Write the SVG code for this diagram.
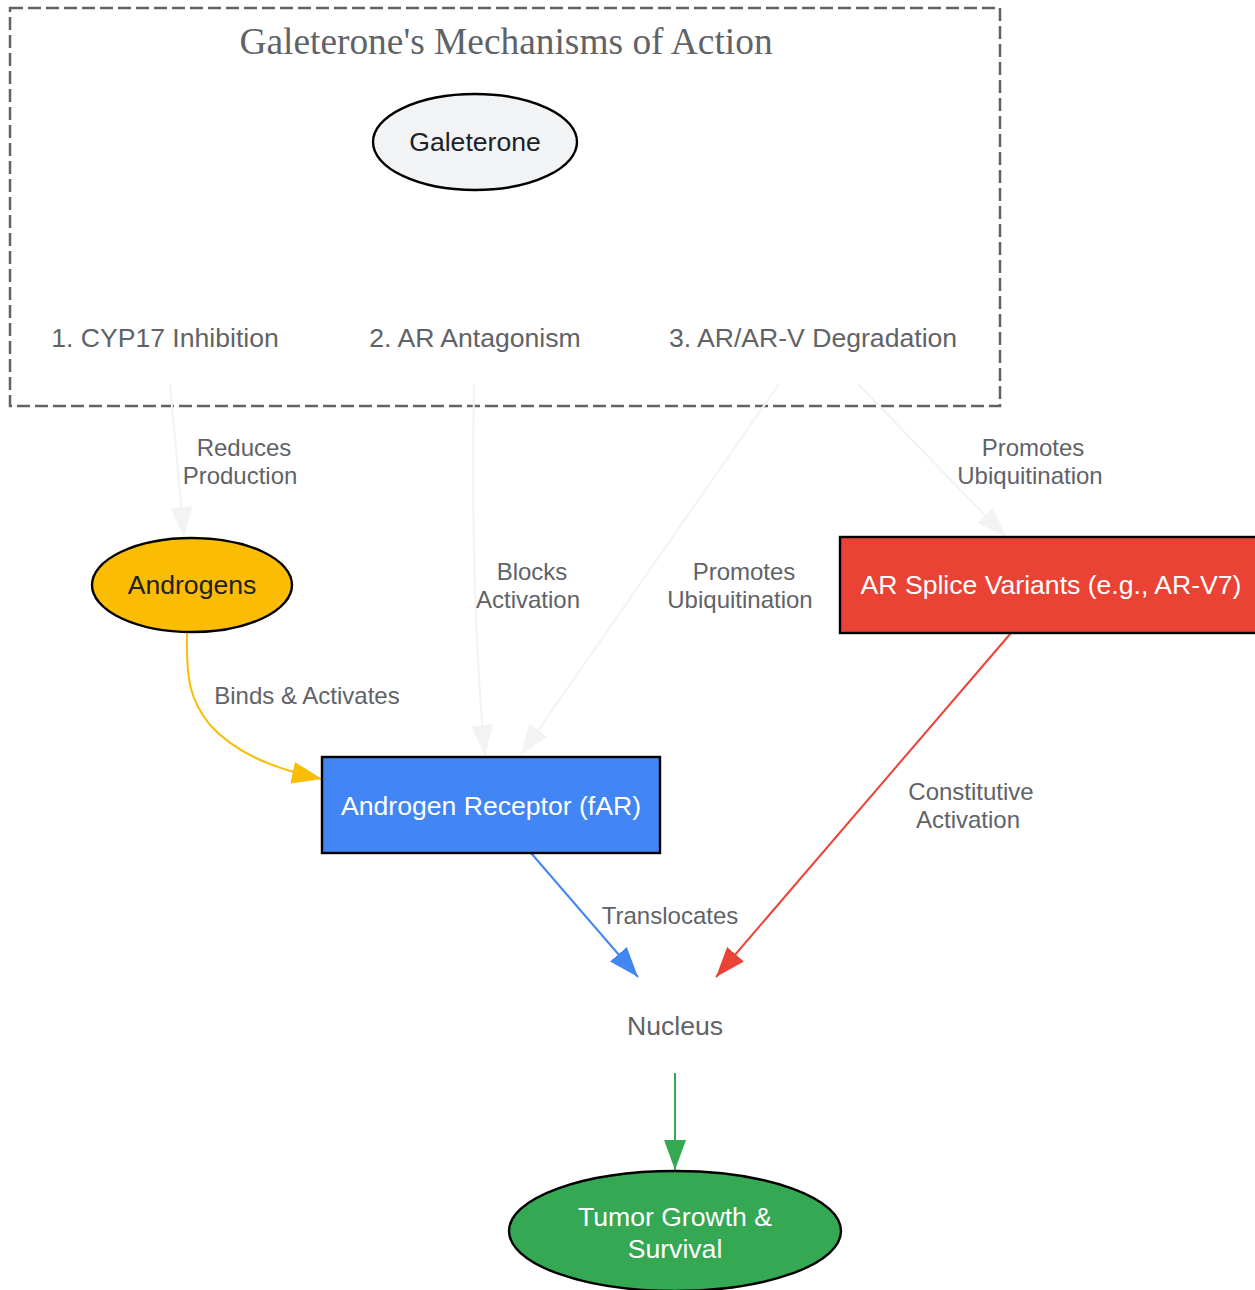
<svg xmlns="http://www.w3.org/2000/svg" width="1255" height="1290" viewBox="0 0 1255 1290">
<style>
.node{font-family:"Liberation Sans",Arial,sans-serif;font-size:26.6px;text-anchor:middle}
.lbl{font-family:"Liberation Sans",Arial,sans-serif;font-size:24px;fill:#5f6368;text-anchor:middle}
.title{font-family:"Liberation Serif","Times New Roman",serif;font-size:37.4px;fill:#5f6368;text-anchor:middle}
.e{fill:none;stroke-width:2}
.shape{stroke:#000;stroke-width:2.4}
</style>
<defs>
<marker id="aLight" markerUnits="userSpaceOnUse" markerWidth="32" markerHeight="24" refX="30" refY="11" orient="auto"><path d="M0,0 L30,11 L0,22 z" fill="#f1f3f4"/></marker>
<marker id="aYellow" markerUnits="userSpaceOnUse" markerWidth="32" markerHeight="24" refX="30" refY="11" orient="auto"><path d="M0,0 L30,11 L0,22 z" fill="#fbbc04"/></marker>
<marker id="aBlue" markerUnits="userSpaceOnUse" markerWidth="32" markerHeight="24" refX="30" refY="11" orient="auto"><path d="M0,0 L30,11 L0,22 z" fill="#4285f4"/></marker>
<marker id="aRed" markerUnits="userSpaceOnUse" markerWidth="32" markerHeight="24" refX="30" refY="11" orient="auto"><path d="M0,0 L30,11 L0,22 z" fill="#ea4335"/></marker>
<marker id="aGreen" markerUnits="userSpaceOnUse" markerWidth="32" markerHeight="24" refX="30" refY="11" orient="auto"><path d="M0,0 L30,11 L0,22 z" fill="#34a853"/></marker>
</defs>
<rect width="1255" height="1290" fill="#ffffff"/>
<g id="cluster">
<rect x="10" y="8" width="990" height="398" fill="none" stroke="#5f6368" stroke-width="2.5" stroke-dasharray="13,5"/>
<text class="title" x="506" y="54">Galeterone's Mechanisms of Action</text>
</g>
<g id="connectors">
<path class="e" stroke="#f1f3f4" d="M170,384 L184,537" marker-end="url(#aLight)"/>
<path class="e" stroke="#f1f3f4" d="M474,384 C472,500 474,640 485,755" marker-end="url(#aLight)"/>
<path class="e" stroke="#f1f3f4" d="M779,384 L521,755" marker-end="url(#aLight)"/>
<path class="e" stroke="#f1f3f4" d="M858,384 L1006,537" marker-end="url(#aLight)"/>
<path class="e" stroke="#fbbc04" d="M187,633 C186,680 190,700 210,725 C235,752 270,768 322,779" marker-end="url(#aYellow)"/>
<path class="e" stroke="#4285f4" d="M531,853 L638,977" marker-end="url(#aBlue)"/>
<path class="e" stroke="#ea4335" d="M1011,633 L716,977" marker-end="url(#aRed)"/>
<path class="e" stroke="#34a853" d="M675,1073 L675,1170" marker-end="url(#aGreen)"/>
<text class="lbl" x="244" y="456">Reduces</text>
<text class="lbl" x="240" y="484">Production</text>
<text class="lbl" x="532" y="580">Blocks</text>
<text class="lbl" x="528" y="608">Activation</text>
<text class="lbl" x="744" y="580">Promotes</text>
<text class="lbl" x="740" y="608">Ubiquitination</text>
<text class="lbl" x="1033" y="456">Promotes</text>
<text class="lbl" x="1030" y="484">Ubiquitination</text>
<text class="lbl" x="307" y="704">Binds &amp; Activates</text>
<text class="lbl" x="670" y="924">Translocates</text>
<text class="lbl" x="971" y="800">Constitutive</text>
<text class="lbl" x="968" y="828">Activation</text>
</g>
<g id="galeterone">
<ellipse class="shape" cx="475" cy="142" rx="102" ry="48" fill="#f1f3f4"/>
<text class="node" x="475" y="151" fill="#202124">Galeterone</text>
</g>
<g id="cyp17">
<text class="node" x="165" y="347" fill="#5f6368">1. CYP17 Inhibition</text>
</g>
<g id="antagonism">
<text class="node" x="475" y="347" fill="#5f6368">2. AR Antagonism</text>
</g>
<g id="degradation">
<text class="node" x="813" y="347" fill="#5f6368">3. AR/AR-V Degradation</text>
</g>
<g id="androgens">
<ellipse class="shape" cx="192" cy="585" rx="100" ry="47" fill="#fbbc04"/>
<text class="node" x="192" y="594" fill="#202124">Androgens</text>
</g>
<g id="far">
<rect class="shape" x="322" y="757" width="338" height="96" fill="#4285f4"/>
<text class="node" x="491" y="815" fill="#ffffff">Androgen Receptor (fAR)</text>
</g>
<g id="splice">
<rect class="shape" x="840" y="537" width="422" height="96" fill="#ea4335"/>
<text class="node" x="1051" y="594" fill="#ffffff">AR Splice Variants (e.g., AR-V7)</text>
</g>
<g id="nucleus">
<text class="node" x="675" y="1035" fill="#5f6368">Nucleus</text>
</g>
<g id="tumor">
<ellipse class="shape" cx="675" cy="1231" rx="166" ry="60" fill="#34a853"/>
<text class="node" x="675" y="1226" fill="#ffffff">Tumor Growth &amp;</text>
<text class="node" x="675" y="1258" fill="#ffffff">Survival</text>
</g>
</svg>
